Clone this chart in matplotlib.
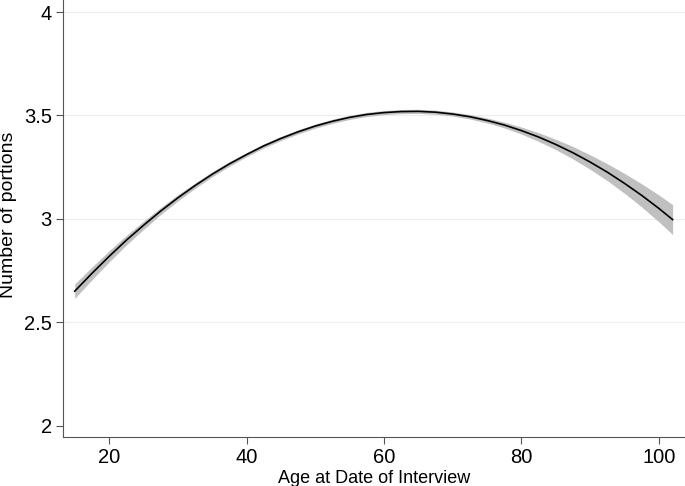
import matplotlib
matplotlib.use('Agg')
import matplotlib.pyplot as plt

plt.rcParams['font.family'] = ['Liberation Sans', 'DejaVu Sans']

# values (fitted line and its confidence band)
age = [15, 17.5, 20, 22.5, 25, 27.5, 30, 32.5, 35, 37.5, 40, 42.5, 45, 47.5, 50,
       52.5, 55, 57.5, 60, 62.5, 65, 67.5, 70, 72.5, 75, 77.5, 80, 82.5, 85,
       87.5, 90, 92.5, 95, 97.5, 100, 102]
fit = [2.651, 2.737, 2.819, 2.897, 2.969, 3.038, 3.102, 3.161, 3.216, 3.266,
       3.311, 3.353, 3.389, 3.421, 3.449, 3.472, 3.491, 3.505, 3.514, 3.519,
       3.520, 3.516, 3.507, 3.494, 3.476, 3.454, 3.427, 3.396, 3.360, 3.320,
       3.275, 3.226, 3.172, 3.114, 3.051, 2.997]
half_ci = [0.035, 0.031, 0.027, 0.023, 0.020, 0.017, 0.015, 0.013, 0.012, 0.011,
           0.010, 0.010, 0.010, 0.010, 0.010, 0.010, 0.010, 0.010, 0.010, 0.010,
           0.010, 0.010, 0.010, 0.011, 0.012, 0.014, 0.017, 0.021, 0.025, 0.030,
           0.035, 0.041, 0.048, 0.056, 0.065, 0.072]
lower = [f - h for f, h in zip(fit, half_ci)]
upper = [f + h for f, h in zip(fit, half_ci)]

x_ticks = [20, 40, 60, 80, 100]
y_ticks = [2, 2.5, 3, 3.5, 4]
y_tick_labels = ['2', '2.5', '3', '3.5', '4']

fig = plt.figure(figsize=(6.85, 4.86), dpi=100)
ax = fig.add_axes([0.092, 0.101, 0.908, 0.899])

for y in y_ticks[1:]:
    ax.axhline(y, color='#eeeeee', lw=0.8, zorder=0)

ax.fill_between(age, lower, upper, color='#c0c0c0', lw=0, zorder=1)
ax.plot(age, fit, color='black', lw=1.2, zorder=2, solid_joinstyle='round')

ax.set_xlim(13.3, 103.8)
ax.set_ylim(1.947, 4.058)
ax.set_xticks(x_ticks)
ax.set_yticks(y_ticks)
ax.set_yticklabels(y_tick_labels)

for side in ['top', 'right']:
    ax.spines[side].set_visible(False)
for side in ['left', 'bottom']:
    ax.spines[side].set_color('#555555')
    ax.spines[side].set_linewidth(0.8)
ax.tick_params(axis='both', direction='out', length=5, width=0.8, color='#555555',
               labelsize=14.5, pad=3)

ax.set_xlabel('Age at Date of Interview', fontsize=13, labelpad=2)
fig.text(0.013, 1 - 215 / 486, 'Number of portions', fontsize=14,
         rotation=90, ha='center', va='center')

fig.savefig('out.png', dpi=100)
